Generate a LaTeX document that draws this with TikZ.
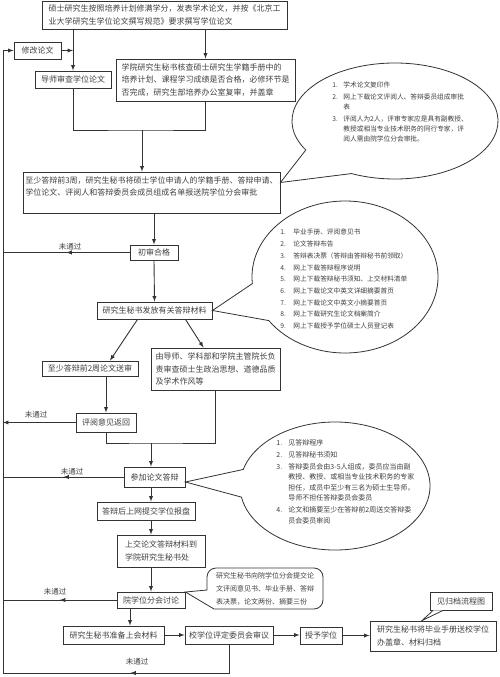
\documentclass[tikz,border=0pt]{standalone}
\usepackage{fontspec}
\usepackage{tikz}
\usetikzlibrary{arrows,decorations.markings}
\newfontfamily\cjk{Noto Sans CJK SC}
\tikzset{
box/.style={draw=black!80,line width=0.9pt,inner sep=0pt,text=black!75,align=left,font=\cjk\fontsize{8}{12.5}\selectfont},
note/.style={draw=black!80,line width=0.8pt},
notetext/.style={inner sep=0pt,text=black!75,align=left},
fail/.style={inner sep=0pt,text=black!75,font=\cjk\fontsize{7.5}{9}\selectfont},
midarrow/.style={postaction={decorate},decoration={markings,mark=at position 0.5 with {\arrow{latex}}}}
}
\begin{document}
\begin{tikzpicture}[x=1pt,y=-1pt,>=latex,line width=0.9pt,black!80]
\fill[white] (0,0) rectangle (500,677);
\useasboundingbox (0,0) rectangle (500,677);
\node[box,minimum width=245,minimum height=28] (write) at (164.5,15) {硕士研究生按照培养计划修满学分，发表学术论文，并按《北京工\\业大学研究生学位论文撰写规范》要求撰写学位论文};
\node[box,minimum width=47,minimum height=17] (revise) at (37.5,50.5) {修改论文};
\node[box,minimum width=76,minimum height=17] (tutor) at (73,79.5) {导师审查学位论文};
\node[box,minimum width=179,minimum height=42] (check) at (205.5,80) {学院研究生秘书核查硕士研究生学籍手册中的\\培养计划、课程学习成绩是否合格，必修环节是\\否完成，研究生部培养办公室复审，并盖章};
\node[box,minimum width=257,minimum height=41] (apply) at (151.5,192.5) {至少答辩前3周，研究生秘书将硕士学位申请人的学籍手册、答辩申请、\\学位论文、评阅人和答辩委员会成员组成名单报送院学位分会审批\\~};
\node[box,minimum width=48,minimum height=15] (first) at (154,252.5) {初审合格};
\node[box,minimum width=115,minimum height=17] (issue) at (154.5,310.5) {研究生秘书发放有关答辩材料};
\node[box,minimum width=96,minimum height=15] (review) at (90,368.5) {至少答辩前2周论文送审};
\node[box,minimum width=129,minimum height=42] (moral) at (215.5,369) {由导师、学科部和学院主管院长负\\责审查硕士生政治思想、道德品质\\及学术作风等};
\node[box,minimum width=60,minimum height=19] (back) at (106,422.5) {评阅意见返回};
\node[box,minimum width=61,minimum height=20] (defend) at (154.5,477) {参加论文答辩};
\node[box,minimum width=98,minimum height=18] (upload) at (146,511) {答辩后上网提交学位报盘};
\node[box,minimum width=88,minimum height=32] (hand) at (161,551) {上交论文答辩材料到\\学院研究生秘书处};
\node[box,minimum width=68,minimum height=16] (council) at (151,600) {院学位分会讨论};
\node[box,minimum width=101,minimum height=18] (prepare) at (113.5,635) {研究生秘书准备上会材料};
\node[box,minimum width=88,minimum height=18] (school) at (229,635) {校学位评定委员会审议};
\node[box,minimum width=42,minimum height=17] (grant) at (321,635.5) {授予学位};
\node[box,minimum width=126,minimum height=30] (archive) at (433,636) {研究生秘书将毕业手册送校学位\\办盖章、材料归档};
\node[box,minimum width=62,minimum height=18] (seeflow) at (461,601) {见归档流程图};
\coordinate (joint) at (142,130);
\coordinate (joint2) at (151,443);
\coordinate (corner) at (3,673);
\draw[->] (write.south -| tutor.north) -- (tutor.north);
\draw[->] (write.south -| check.north) -- (check.north);
\draw (tutor.south) |- (joint) -| (check.south);
\draw[->] (joint) -- (joint |- apply.north);
\draw[->] (first.north |- apply.south) -- (first.north);
\draw[midarrow] (first.west) -- (first.west -| corner);
\node[fail] (fail1) at (70,247) {未通过};
\draw[->] (first.south) -- (issue.north);
\draw[->] ([xshift=-17pt]issue.south) -- ([xshift=20pt]review.north);
\draw[->] ([xshift=31pt]issue.south) -- ([xshift=-12pt]moral.north);
\draw[->] (back.north |- review.south) -- (back.north);
\draw[->] (back.west) -- (back.west -| corner);
\node[fail] (fail2) at (36,415) {未通过};
\draw (back.south) |- (joint2) -| (moral.south);
\draw[->] (joint2) -- (joint2 |- defend.north);
\draw[midarrow] (defend.west) -- (defend.west -| corner);
\node[fail] (fail3) at (72,472) {未通过};
\draw[->] (joint2 |- defend.south) -- (joint2 |- upload.north);
\draw[->] (joint2 |- upload.south) -- (joint2 |- hand.north);
\draw[->] (joint2 |- hand.south) -- (council.north);
\draw[midarrow] (council.west) -- (council.west -| corner);
\node[fail] (fail4) at (55,592) {未通过};
\draw[->] ([xshift=-21pt]council.south) -- ([xshift=-21pt]council.south |- prepare.north);
\draw[->] (prepare.east) -- (school.west);
\draw[->] (school.east) -- (school.east -| grant.west);
\draw[->] (grant.east) -- (grant.east -| archive.west);
\draw[midarrow] (school.south) |- (corner);
\node[fail] (fail5) at (137,662) {未通过};
\draw[->] (corner) |- (revise.west);
\draw[->] (revise.east) -- (revise.east -| tutor.north);
\draw[note] (395,121) ++(150:103 and 58) arc[start angle=150,end angle=475,x radius=103,y radius=58] -- ([yshift=10pt]apply.east) -- cycle;
\node[notetext,anchor=north west,font=\cjk\fontsize{6.7}{10}\selectfont] (list1) at (332,80.5) {\begin{tabular}{@{}p{11pt}@{}l@{}}
1. & 学术论文复印件\\[2pt]
2. & 网上下载论文评阅人、答辩委员组成审批\\
 & 表\\[2pt]
3. & 评阅人为2人，评审专家应是具有副教授、\\
 & 教授或相当专业技术职务的同行专家，评\\
 & 阅人需由院学位分会审批。
\end{tabular}};
\draw[note] (345,277) ++(175:93 and 76) arc[start angle=175,end angle=505,x radius=93,y radius=76] -- (issue.east) -- cycle;
\node[notetext,anchor=north west,font=\cjk\fontsize{6.7}{11.7}\selectfont] (list2) at (280,226.3) {\begin{tabular}{@{}p{13pt}@{}l@{}}
1. & 毕业手册、评阅意见书\\
2. & 论文答辩布告\\
3. & 答辩表决票（答辩由答辩秘书前领取）\\
4. & 网上下载答辩程序说明\\
5. & 网上下载答辩秘书须知、上交材料清单\\
6. & 网上下载论文中英文详细摘要首页\\
7. & 网上下载论文中英文小摘要首页\\
8. & 网上下载研究生论文档案简介\\
9. & 网上下载授予学位硕士人员登记表
\end{tabular}};
\draw[note] (335,486) ++(195:95 and 64) arc[start angle=195,end angle=530,x radius=95,y radius=64] -- ([yshift=-5pt]defend.east) -- cycle;
\node[notetext,anchor=north west,font=\cjk\fontsize{7}{10.5}\selectfont] (list3) at (276,437.3) {\begin{tabular}{@{}p{12pt}@{}l@{}}
1. & 见答辩程序\\[1.5pt]
2. & 见答辩秘书须知\\[1.5pt]
3. & 答辩委员会由3-5人组成，委员应当由副\\
 & 教授、教授、或相当专业技术职务的专家\\
 & 担任，成员中至少有三名为硕士生导师，\\
 & 导师不担任答辩委员会委员\\[1.5pt]
4. & 论文和摘要至少在答辩前2周送交答辩委\\
 & 员会委员审阅
\end{tabular}};
\draw[note] ([yshift=8pt]council.east) -- (214,609) [rounded corners=9pt] -- (323,609) -- (323,568) -- (207,568) [sharp corners] -- (207,590) -- cycle;
\node[notetext,font=\cjk\fontsize{7}{13}\selectfont] (memo) at (265,589) {研究生秘书向院学位分会提交论\\文评阅意见书、毕业手册、答辩\\表决票，论文两份、摘要三份};
\draw[note,fill=white] ([xshift=-28pt]seeflow.south) -- ([xshift=-11pt]archive.north) -- ([xshift=-18pt]seeflow.south);
\end{tikzpicture}
\end{document}
